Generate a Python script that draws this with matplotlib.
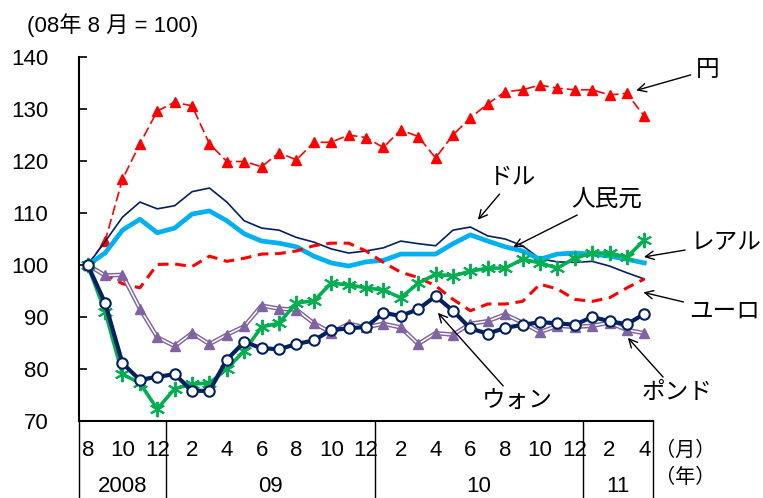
import matplotlib
matplotlib.use("Agg")
import matplotlib.pyplot as plt
import matplotlib.transforms as mtransforms
from matplotlib.lines import Line2D

plt.rcParams['font.family'] = ['Liberation Sans', 'Noto Sans CJK JP']

# Monthly index, Aug 2008 = 100, through Apr 2011 (33 months)
months = list(range(33))
month_labels = ['8', '10', '12', '2', '4', '6', '8', '10', '12',
                '2', '4', '6', '8', '10', '12', '2', '4']
year_labels = ['2008', '09', '10', '11']
year_spans = [(0, 4), (5, 16), (17, 28), (29, 32)]

yen = [100, 104.6, 116.5, 123.3, 129.6, 131.3, 130.6, 123.3, 119.9, 119.9, 118.9,
       121.6, 120.2, 123.6, 123.6, 125.0, 124.5, 122.6, 126.0, 124.7, 120.6, 125.0,
       128.3, 131.0, 133.3, 133.7, 134.6, 134.0, 133.7, 133.7, 132.7, 133.0, 128.6]
dollar = [100, 104.5, 109.2, 112.1, 110.8, 111.4, 114.1, 114.8, 112.1, 108.5, 107.1,
          106.7, 105.3, 104.4, 103.1, 102.3, 102.7, 103.3, 104.6, 104.1, 103.7, 106.7,
          107.3, 105.6, 105.0, 103.7, 101.2, 100.6, 100.5, 100.7, 99.8, 98.5, 97.3]
yuan = [100, 102.3, 106.7, 108.8, 106.2, 107.1, 109.8, 110.4, 108.5, 106.0, 104.6,
        104.2, 103.5, 101.7, 100.4, 99.8, 100.6, 100.9, 102.1, 102.1, 102.1, 104.1,
        105.8, 104.6, 103.5, 102.7, 101.1, 102.1, 102.3, 102.1, 101.7, 101.1, 100.4]
euro = [100, 98.2, 96.4, 95.6, 100.1, 100.2, 99.7, 101.7, 100.7, 101.3, 102.1,
        102.2, 102.7, 103.7, 104.2, 104.2, 102.7, 100.5, 98.6, 97.6, 96.0, 93.4,
        91.2, 92.5, 92.5, 93.0, 96.3, 95.4, 93.4, 93.0, 93.7, 95.6, 97.3]
pound = [100, 98.0, 98.1, 91.6, 86.1, 84.4, 86.9, 84.8, 86.6, 88.2, 92.2,
         91.6, 91.4, 88.8, 87.0, 88.7, 88.0, 88.7, 88.0, 84.8, 86.9, 86.6,
         88.7, 89.2, 90.5, 88.9, 87.1, 88.3, 88.1, 88.3, 88.9, 87.5, 86.9]
real = [100, 91.0, 79.0, 77.3, 72.3, 76.2, 77.1, 77.3, 80.0, 83.5, 88.1,
        88.8, 92.7, 93.1, 96.5, 96.2, 95.6, 95.2, 93.7, 96.5, 98.2, 97.9,
        98.8, 99.4, 99.4, 101.1, 100.4, 99.4, 101.3, 102.3, 102.3, 101.5, 104.8]
won = [100, 92.7, 81.1, 77.9, 78.5, 79.0, 75.8, 75.8, 81.8, 85.2, 84.0,
       83.8, 84.8, 85.5, 87.5, 87.8, 88.1, 90.8, 90.2, 91.5, 94.0, 91.2,
       87.8, 86.8, 87.9, 88.5, 89.0, 88.8, 88.5, 90.0, 89.2, 88.6, 90.6]

NAVY = '#002060'
RED = '#FF0000'
SKY = '#00B0F0'
GREEN = '#00B050'
PURPLE = '#8064A2'

fig = plt.figure(figsize=(7.63, 4.98), dpi=100)
ax = fig.add_axes([79 / 763, 77 / 498, 574 / 763, 364 / 498])

# series
ax.plot(months, yen, color=RED, lw=1.2, dashes=(6, 2.5), marker='^', ms=7.5,
        mfc=RED, mec=RED, zorder=3)
ax.plot(months, dollar, color=NAVY, lw=1.2, zorder=3)
ax.plot(months, yuan, color=SKY, lw=3.4, solid_joinstyle='round', zorder=3)
ax.plot(months, euro, color=RED, lw=2.2, dashes=(3.5, 2.2), zorder=4)
ax.plot(months, pound, color=PURPLE, lw=3.2, zorder=4)
ax.plot(months, pound, color='white', lw=1.1, zorder=4)
ax.plot(months, pound, ls='none', marker='^', ms=6.5, mfc=PURPLE, mec=PURPLE, zorder=4)
ax.plot(months, real, color=GREEN, lw=2.6, marker=(6, 2, 0), ms=11, mew=1.4,
        mec=GREEN, zorder=5)
ax.plot(months, won, color=NAVY, lw=3.0, marker='o', ms=7.5, mfc='white',
        mec=NAVY, mew=1.5, zorder=6)

ax.set_xlim(-0.5, 32.5)
ax.set_ylim(70, 140)
ax.set_yticks(range(70, 141, 10))
ax.tick_params(axis='y', direction='in', length=6, width=1.2, pad=22, labelsize=16)
ax.set_xticks(months[::2])
ax.set_xticklabels(month_labels)
ax.tick_params(axis='x', length=0, pad=14, labelsize=16)
for side in ('top', 'right'):
    ax.spines[side].set_visible(False)
ax.spines['left'].set_linewidth(1.5)
ax.spines['bottom'].set_linewidth(1.5)

# year table below the axis
trans = mtransforms.blended_transform_factory(ax.transData, ax.transAxes)
for xb in (-0.5, 4.5, 16.5, 28.5, 32.5):
    ax.add_line(Line2D([xb, xb], [0, -0.22], transform=trans, color='black',
                       lw=1.0, clip_on=False))
for lab, (a, b) in zip(year_labels, year_spans):
    ax.text((a + b) / 2, -0.181, lab, transform=trans, ha='center', va='center',
            fontsize=16)
ax.text(32.6, -0.08, '（月）', transform=trans, ha='left', va='center', fontsize=14.5)
ax.text(32.6, -0.154, '（年）', transform=trans, ha='left', va='center', fontsize=14.5)

fig.text(27 / 763, 1 - 25 / 498, '(08年 8 月 = 100)', ha='left', va='center', fontsize=16)

# series labels with arrows
arrow = dict(arrowstyle='->', color='black', lw=1.0, shrinkA=2, shrinkB=1,
             mutation_scale=15)
labels = [
    ('円', (31.46, 133.5), (35.66, 137.5)),
    ('ドル', (22.38, 108.5), (24.45, 116.7)),
    ('人民元', (24.39, 103.3), (29.86, 112.5)),
    ('レアル', (31.9, 101.5), (36.7, 104.2)),
    ('ユーロ', (31.87, 94.8), (36.6, 91.0)),
    ('ポンド', (31.0, 86.2), (33.9, 75.4)),
    ('ウォン', (20.08, 91.0), (24.7, 73.7)),
]
for text, xy, xyt in labels:
    ax.annotate(text, xy=xy, xytext=xyt, ha='center', va='center', fontsize=17,
                arrowprops=arrow, annotation_clip=False, zorder=7)

fig.savefig('out.png', dpi=100)
